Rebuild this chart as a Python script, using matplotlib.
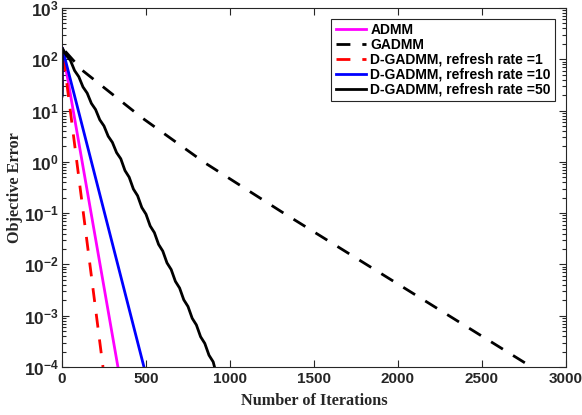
import numpy as np
import matplotlib
matplotlib.use("Agg")
import matplotlib.pyplot as plt
from matplotlib.ticker import LogLocator, FixedLocator

# Values (y stored as log10 of the objective error)
admm_it = [0, 2, 333]
admm_log = [1.6, 2.22, -4.0]

gadmm_it = [0, 2, 119, 476, 851, 1310, 2756, 2790]
gadmm_log = [1.3, 2.22, 1.79, 0.86, -0.02, -0.98, -3.92, -4.0]

dg1_it = [0, 2, 244]
dg1_log = [1.4, 2.22, -4.0]

dg10_it = [0, 2, 488]
dg10_log = [1.3, 2.22, -4.0]

dg50_it = [0, 2, 25, 50, 75, 100, 125, 150, 175, 200, 225, 250, 275, 300,
           325, 350, 375, 400, 425, 450, 475, 500, 525, 550, 575, 600, 625,
           650, 675, 700, 725, 750, 775, 800, 825, 850, 875, 900, 912]
dg50_log = [1.28, 2.22, 2.08, 1.98, 1.78, 1.66, 1.46, 1.34, 1.14, 1.02, 0.82,
            0.70, 0.50, 0.38, 0.18, 0.06, -0.17, -0.30, -0.53, -0.66, -0.89,
            -1.02, -1.25, -1.38, -1.61, -1.74, -1.97, -2.10, -2.33, -2.46,
            -2.69, -2.82, -3.05, -3.18, -3.41, -3.54, -3.77, -3.90, -4.05]

labels = ["ADMM", "GADMM", "D-GADMM, refresh rate =1",
          "D-GADMM, refresh rate =10", "D-GADMM, refresh rate =50"]

plt.rcParams['font.family'] = ['Liberation Sans', 'DejaVu Sans']
plt.rcParams['font.weight'] = 'bold'
plt.rcParams['mathtext.fontset'] = 'custom'
plt.rcParams['mathtext.rm'] = 'Liberation Sans:bold'
plt.rcParams['mathtext.bf'] = 'Liberation Sans:bold'
plt.rcParams['mathtext.default'] = 'bf'

grey = '#262626'

fig = plt.figure(figsize=(5.82, 4.15), dpi=100)
ax = fig.add_axes([0.1065, 0.1157, 0.866, 0.865])

lw = 2.0
ax.semilogy(admm_it, 10 ** np.array(admm_log), color='#ff00ff', lw=lw, label=labels[0])
ax.semilogy(gadmm_it, 10 ** np.array(gadmm_log), color='k', lw=lw,
            dashes=(5, 4.3), label=labels[1])
ax.semilogy(dg1_it, 10 ** np.array(dg1_log), color='r', lw=lw,
            dashes=(5, 4.3), label=labels[2])
ax.semilogy(dg10_it, 10 ** np.array(dg10_log), color='b', lw=lw, label=labels[3])
ax.semilogy(dg50_it, 10 ** np.array(dg50_log), color='k', lw=lw, label=labels[4])

ax.set_xlim(0, 3000)
ax.set_ylim(1e-4, 1e3)
ax.xaxis.set_major_locator(FixedLocator([0, 500, 1000, 1500, 2000, 2500, 3000]))
ax.yaxis.set_major_locator(LogLocator(base=10, numticks=20))
ax.yaxis.set_minor_locator(LogLocator(base=10, subs=np.arange(2, 10), numticks=20))

ax.tick_params(which='both', direction='in', top=True, right=True, width=0.8,
               color=grey, labelcolor=grey)
ax.tick_params(which='major', length=5)
ax.tick_params(axis='x', labelsize=11)
ax.tick_params(axis='y', labelsize=12.5, pad=2)
ax.tick_params(which='minor', length=3)
for sp in ax.spines.values():
    sp.set_linewidth(0.8)
    sp.set_color(grey)

ax.set_xlabel("Number of Iterations", family='Liberation Serif',
              fontweight='bold', fontsize=11.7, color=grey)
ax.set_ylabel("Objective Error", family='Liberation Serif',
              fontweight='bold', fontsize=11.7, color=grey)
ax.xaxis.set_label_coords(0.5, -0.073)
ax.yaxis.set_label_coords(-0.077, 0.5)

leg = ax.legend(loc='upper right', bbox_to_anchor=(0.978, 0.969),
                borderaxespad=0,
                prop={'family': 'Liberation Sans', 'weight': 'bold', 'size': 10},
                handlelength=2.2, handletextpad=0.3, labelspacing=0.06,
                borderpad=0.3, fancybox=False, framealpha=1, edgecolor=grey)
leg.get_frame().set_linewidth(0.8)

fig.savefig("out.png", dpi=100)
